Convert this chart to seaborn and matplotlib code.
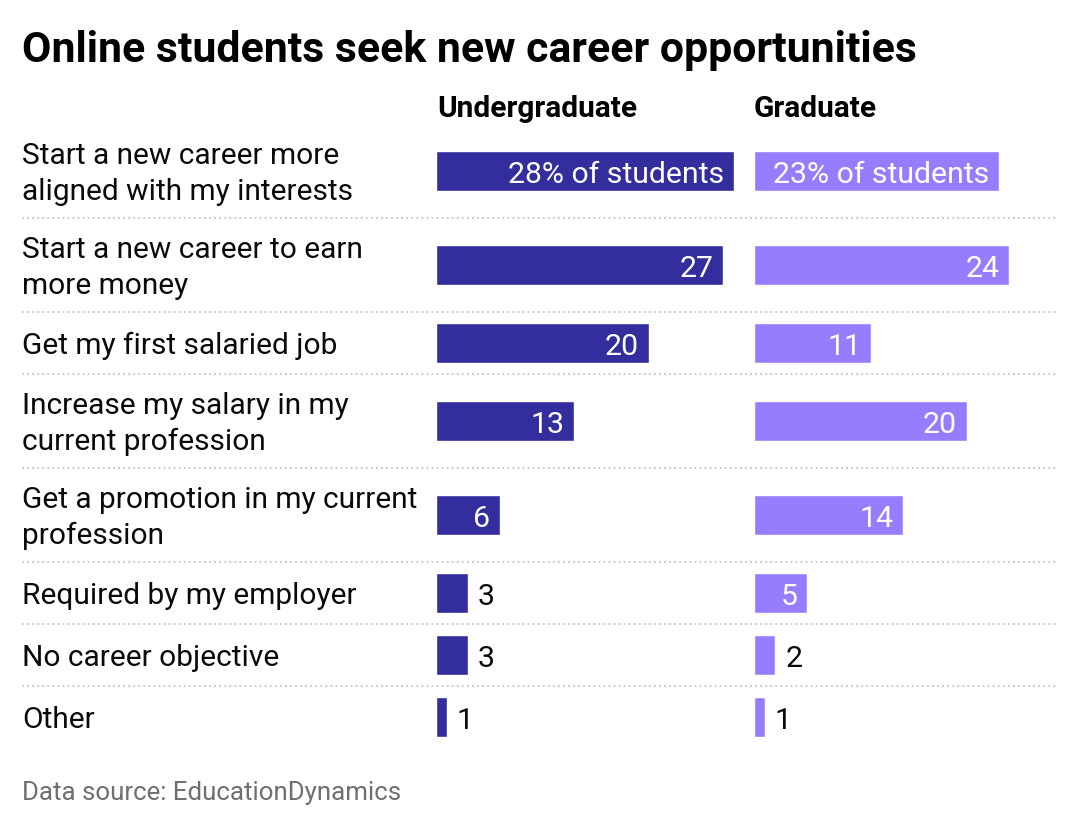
import numpy as np
import pandas as pd
import matplotlib.pyplot as plt
import seaborn as sns

# data
categories = [
    "Start a new career more\naligned with my interests",
    "Start a new career to earn\nmore money",
    "Get my first salaried job",
    "Increase my salary in my\ncurrent profession",
    "Get a promotion in my current\nprofession",
    "Required by my employer",
    "No career objective",
    "Other",
]
undergrad = [28, 27, 20, 13, 6, 3, 3, 1]
graduate = [23, 24, 11, 20, 14, 5, 2, 1]
groups = ["Undergraduate", "Graduate"]
colors = ["#332D9E", "#977DFE"]

W, H = 1080, 828

sns.set_style("white")
plt.rcParams["font.family"] = ["Roboto", "DejaVu Sans"]

# row layout (pixels from top), two-line labels get taller rows
top = 125
heights = np.array([94 if "\n" in c else 62 for c in categories])
bounds = top + np.concatenate([[0], np.cumsum(heights)])
centers = bounds[:-1] + heights / 2
bottom = bounds[-1]

df = pd.DataFrame({
    "category": categories,
    "ypos": centers,
    "Undergraduate": undergrad,
    "Graduate": graduate,
})

fig = plt.figure(figsize=(W / 100, H / 100), dpi=100)

# background axes in pixel coords for text and separators
bg = fig.add_axes([0, 0, 1, 1])
bg.set_xlim(0, W)
bg.set_ylim(H, 0)
bg.axis("off")

bg.text(22, 62, "Online students seek new career opportunities",
        fontsize=30.8, fontweight="bold", va="baseline", ha="left", color="black")
bg.text(437, 117, "Undergraduate", fontsize=21.5, fontweight="bold",
        va="baseline", color="black")
bg.text(754, 117, "Graduate", fontsize=21.5, fontweight="bold",
        va="baseline", color="black")
bg.text(22, 793, "Data source: EducationDynamics", fontsize=18.6,
        color="#6f6f6f", va="center")

for c, y in zip(categories, centers):
    bg.text(22, y + 2, c, fontsize=21.5, va="center", ha="left",
            linespacing=1.32, color="#0a0a0a")

bg.hlines(bounds[1:-1], 22, 1058, colors="#cccccc", linewidth=1.4,
          linestyles=(0, (1, 1.6)))

# bars
px_per_unit = 298 / 28
bar_h = 40
panel_left = {"Undergraduate": 436, "Graduate": 754}
panel_w = 310

for grp, col in zip(groups, colors):
    ax = fig.add_axes([panel_left[grp] / W, 1 - bottom / H,
                       panel_w / W, (bottom - top) / H])
    sns.barplot(data=df, x=grp, y="ypos", orient="y", native_scale=True,
                color=col, saturation=1, errorbar=None,
                width=bar_h / np.diff(centers).min(), ax=ax)
    ax.set_xlim(0, panel_w / px_per_unit)
    ax.set_ylim(bottom, top)
    ax.axis("off")

    pad = 10 / px_per_unit
    for i, (v, y) in enumerate(zip(df[grp], df["ypos"])):
        txt = f"{v}% of students" if i == 0 else str(v)
        if v >= 5:
            ax.text(v - pad, y, txt, color="white", fontsize=21.8,
                    ha="right", va="center_baseline")
        else:
            ax.text(v + pad, y, txt, color="#0a0a0a", fontsize=21.8,
                    ha="left", va="center_baseline")

fig.savefig("out.png", dpi=100)
